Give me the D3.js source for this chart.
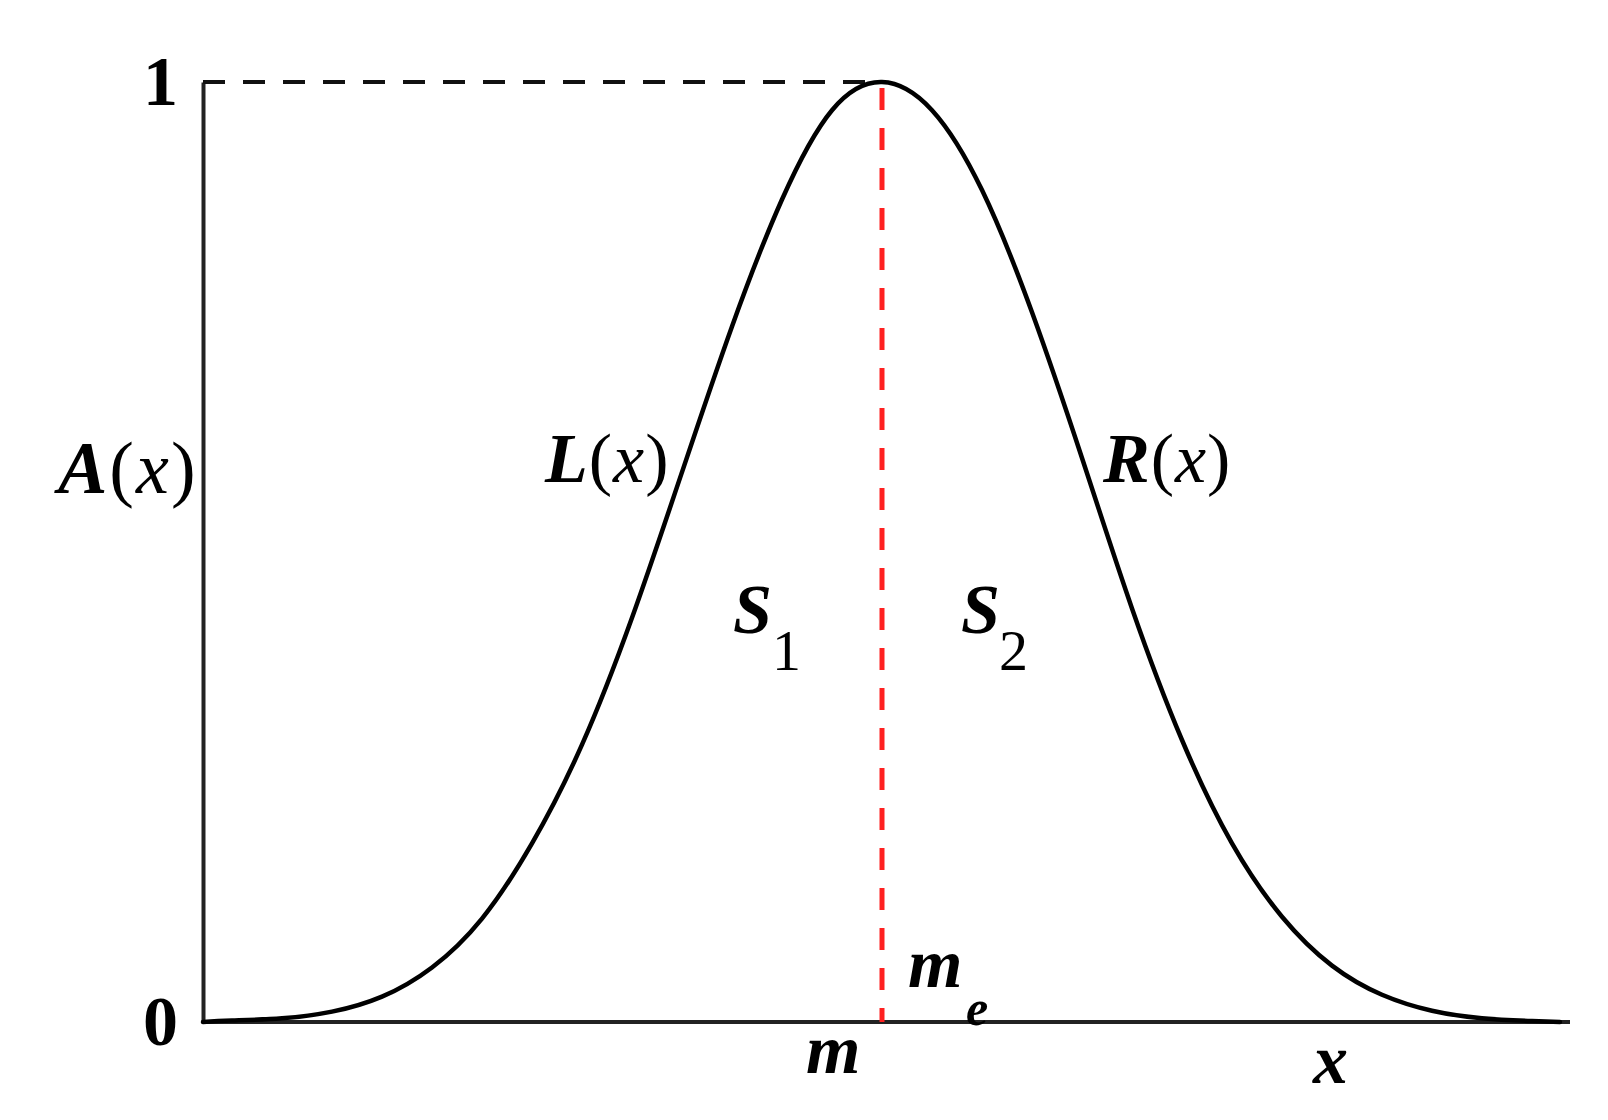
<!DOCTYPE html>
<html><head><meta charset="utf-8">
<script src="https://cdn.jsdelivr.net/npm/d3@7"></script>
<style>
html,body{margin:0;padding:0;background:#fff;}
svg{display:block;}
text{font-family:"Liberation Serif","Times New Roman",serif;fill:#000;}
</style></head>
<body><svg id="c" width="1608" height="1120"></svg>
<script>
// Data (x in arbitrary units, peak m = 6.79)
const xValues = [0, 0.29, 0.79, 1.29, 1.79, 2.29, 2.79, 3.29, 3.79, 4.29, 4.79, 5.29, 5.79, 6.29, 6.79,
                 7.29, 7.79, 8.29, 8.79, 9.29, 9.79, 10.29, 10.79, 11.29, 11.79, 12.29, 12.79, 13.29, 13.57];
const aValues = [0.0, 0.0015, 0.004, 0.011, 0.027, 0.058, 0.11, 0.19, 0.295, 0.43, 0.585, 0.74, 0.875, 0.97, 1.0,
                 0.97, 0.885, 0.755, 0.60, 0.44, 0.30, 0.19, 0.112, 0.06, 0.029, 0.012, 0.004, 0.001, 0.0];
const mValue = 6.79;
const xDomain = [0, 13.57];
const yTicks = [0, 1];
const yTickLabels = ["0", "1"];

const svg = d3.select("#c");
const x = d3.scaleLinear().domain(xDomain).range([203, 1560]);
const y = d3.scaleLinear().domain([0, 1]).range([1022, 82]);

// axes
const gy = svg.append("g").attr("transform", `translate(${x(0)},0)`)
  .call(d3.axisLeft(y).tickValues(yTicks).tickSize(0).tickSizeOuter(0).tickPadding(25)
        .tickFormat((d, i) => yTickLabels[i]));
gy.select(".domain").attr("stroke", "#222").attr("stroke-width", 4);
gy.selectAll(".tick text").attr("font-family", "Liberation Serif").attr("font-size", 70)
  .attr("font-weight", "bold").attr("fill", "#000");

const gx = svg.append("g").attr("transform", `translate(0,${y(0)})`)
  .call(d3.axisBottom(x).tickValues([]).tickSizeOuter(0));
gx.select(".domain").attr("stroke", "#222").attr("stroke-width", 4)
  .attr("d", `M${x(0)},0H1570`);

// top dashed line at A = 1
svg.append("line")
  .attr("x1", x(0)).attr("x2", x(mValue)).attr("y1", y(1)).attr("y2", y(1))
  .attr("stroke", "#111").attr("stroke-width", 4).attr("stroke-dasharray", "22,18");

// red dashed line at m
svg.append("line")
  .attr("x1", x(mValue)).attr("x2", x(mValue)).attr("y1", y(1) + 6).attr("y2", y(0))
  .attr("stroke", "#ff2020").attr("stroke-width", 5).attr("stroke-dasharray", "22,18");

// curve
const pts = xValues.map((v, i) => [v, aValues[i]]);
svg.append("path").datum(pts)
  .attr("fill", "none").attr("stroke", "#000").attr("stroke-width", 4.5)
  .attr("stroke-linecap", "round")
  .attr("d", d3.line().x(d => x(d[0])).y(d => y(Math.max(0, d[1]))).curve(d3.curveNatural));

// labels
function fx(tx, ty, parts, size, ls) {
  const t = svg.append("text").attr("x", tx).attr("y", ty).attr("font-size", size);
  if (ls) t.attr("letter-spacing", ls);
  parts.forEach(p => {
    const s = t.append("tspan").text(p.t);
    if (p.b) s.attr("font-weight", "bold");
    if (p.i) s.attr("font-style", "italic");
  });
  return t;
}
fx(58, 493, [{t:"A", b:1, i:1}, {t:"("}, {t:"x", i:1}, {t:")"}], 74, 2);
fx(545, 482, [{t:"L", b:1, i:1}, {t:"("}, {t:"x", i:1}, {t:")"}], 70, 1);
fx(1103, 482, [{t:"R", b:1, i:1}, {t:"("}, {t:"x", i:1}, {t:")"}], 70, 1);
fx(733, 633, [{t:"S", b:1, i:1}], 70);
fx(772, 670, [{t:"1"}], 58);
fx(961, 633, [{t:"S", b:1, i:1}], 70);
fx(999, 670, [{t:"2"}], 58);
fx(908, 987, [{t:"m", b:1, i:1}], 70);
fx(966, 1025, [{t:"e", b:1, i:1}], 50);
fx(806, 1073, [{t:"m", b:1, i:1}], 70);
fx(1313, 1083, [{t:"x", b:1, i:1}], 70);
</script></body></html>
